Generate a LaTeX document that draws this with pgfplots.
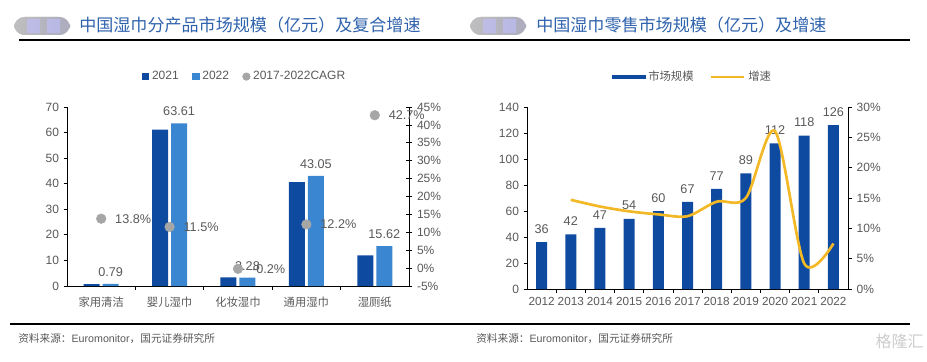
\documentclass[border=0pt]{standalone}
\usepackage{pgfplots}
\pgfplotsset{compat=1.18}
\usepackage{fontspec}
\setmainfont{Liberation Sans}
\newfontfamily\cjk{Noto Sans CJK SC}
\definecolor{dblue}{HTML}{0E4AA0}
\definecolor{lblue}{HTML}{3A86D0}
\definecolor{cgray}{HTML}{A6A6A6}
\definecolor{cyel}{HTML}{F2B825}
\definecolor{tgray}{HTML}{595959}
\definecolor{ttl}{HTML}{2E62AC}
\pgfplotsset{
  base/.style={
    scale only axis,
    axis line style={-, draw=black, line width=0.7pt},
    tick style={draw=black, line width=0.6pt},
    tick label style={text=tgray, font=\fontsize{9}{10}\selectfont},
    /pgf/number format/assume math mode=true,
  }
}
\begin{document}
\begin{tikzpicture}[x=0.75pt,y=0.75pt]
\path[use as bounding box] (0,0) rectangle (927,361);
% ---------- decorations ----------
\fill[left color=white, right color=blue!15, opacity=0.5, rounded corners=8pt] (14,326) rectangle (70,344);
\fill[blue!25, opacity=0.6] (27,328) rectangle (40,342);
\fill[blue!25, opacity=0.6] (47,328) rectangle (60,342);
\fill[left color=white, right color=blue!15, opacity=0.5, rounded corners=8pt] (470,326) rectangle (526,344);
\fill[blue!25, opacity=0.6] (483,328) rectangle (496,342);
\fill[blue!25, opacity=0.6] (503,328) rectangle (516,342);
\node[anchor=west, text=ttl, inner sep=0pt, font=\cjk\fontsize{12.8}{14}\selectfont] at (79,336) {中国湿巾分产品市场规模（亿元）及复合增速};
\node[anchor=west, text=ttl, inner sep=0pt, font=\cjk\fontsize{12.8}{14}\selectfont] at (536,336) {中国湿巾零售市场规模（亿元）及增速};
\draw[line width=1.6pt] (19,321) -- (460,321);
\draw[line width=1.6pt] (460,321) -- (910,321);
\draw[line width=1.6pt] (10,37) -- (910,37);
\node[anchor=west, text=tgray, inner sep=0pt, font=\fontsize{8}{9}\selectfont] at (18,22) {{\cjk 资料来源：}Euromonitor{\cjk ，国元证券研究所}};
\node[anchor=west, text=tgray, inner sep=0pt, font=\fontsize{8}{9}\selectfont] at (476,22) {{\cjk 资料来源：}Euromonitor{\cjk ，国元证券研究所}};
\node[anchor=east, text=black!20, inner sep=0pt, font=\cjk\fontsize{12}{13}\selectfont] at (924,20) {格隆汇};
% ---------- left chart: bars ----------
\begin{axis}[base,
  at={(50.25pt,56.25pt)}, anchor=south west,
  width=256.5pt, height=134.25pt,
  xmin=-0.5, xmax=4.5, ymin=0, ymax=70,
  axis x line*=bottom, axis y line*=left,
  ytick={0,10,...,70},
  xtick={0,...,4},
  xticklabels={家用清洁,婴儿湿巾,化妆湿巾,通用湿巾,湿厕纸},
  x tick label style={font=\cjk\fontsize{8.5}{9}\selectfont, text=tgray, yshift=-2pt},
  major x tick style={draw=none},
  minor xtick={0.5,1.5,2.5,3.5},
  minor tick length=3pt,
  ytick align=outside, major tick length=2.5pt,
  xtick align=inside,
  ybar=2.25pt, bar width=12pt,
  legend style={at={(0.52,1.17)}, anchor=center, draw=none, fill=none,
    legend columns=3, font=\fontsize{9}{10}\selectfont, text=tgray,
    /tikz/every even column/.append style={column sep=8pt},
    legend cell align=left, inner sep=0pt},
  legend image code/.code={\fill[#1] (0cm,-0.1cm) rectangle (0.2cm,0.1cm);},
]
\addplot[fill=dblue, draw=none] coordinates {(0,0.70) (1,61.2) (2,3.4) (3,40.6) (4,12.0)};
\addplot[fill=lblue, draw=none, nodes near coords,
  nodes near coords style={text=tgray, font=\fontsize{9.5}{10}\selectfont, yshift=2pt, /pgf/number format/.cd, fixed, precision=2, fixed zerofill, assume math mode=true}]
  coordinates {(0,0.79) (1,63.61) (2,3.28) (3,43.05) (4,15.62)};
\addlegendentry{2021}
\addlegendentry{2022}
\addlegendimage{legend image code/.code={\fill[cgray] (0.1cm,0cm) circle (0.1cm);}}
\addlegendentry{2017-2022CAGR}
\end{axis}
% ---------- left chart: CAGR ----------
\begin{axis}[base,
  at={(50.25pt,56.25pt)}, anchor=south west,
  width=256.5pt, height=134.25pt,
  xmin=-0.5, xmax=4.5, ymin=-5, ymax=45,
  axis x line=none, axis y line*=right,
  ytick={-5,0,...,45},
  yticklabel={\pgfmathprintnumber{\tick}\%},
  tick align=center, major tick length=5pt,
]
\addplot[only marks, mark=*, mark size=3.6pt, color=cgray,
  nodes near coords={\pgfmathprintnumber[fixed,precision=1,fixed zerofill,assume math mode=true]{\pgfplotspointmeta}\%},
  nodes near coords style={anchor=west, xshift=7pt, text=tgray, font=\fontsize{9.5}{10}\selectfont}]
  coordinates {(0,13.8) (1,11.5) (2,-0.2) (3,12.2) (4,42.7)};
\end{axis}
% ---------- right chart: bars ----------
\begin{axis}[base,
  at={(395.25pt,54pt)}, anchor=south west,
  width=240.75pt, height=136.5pt,
  xmin=-0.5, xmax=10.5, ymin=0, ymax=140,
  axis x line*=bottom, axis y line*=left,
  ytick={0,20,...,140},
  xtick={0,...,10},
  xticklabels={2012,2013,2014,2015,2016,2017,2018,2019,2020,2021,2022},
  x tick label style={font=\fontsize{8.8}{9}\selectfont, text=tgray},
  major x tick style={draw=none},
  minor xtick={0.5,1.5,...,9.5},
  minor tick length=3pt,
  ytick align=outside, major tick length=2.5pt,
  xtick align=inside,
  ybar, bar width=8.25pt,
  legend style={at={(0.517,1.165)}, anchor=center, draw=none, fill=none,
    legend columns=2, font=\cjk\fontsize{8.5}{9}\selectfont, text=tgray,
    /tikz/every even column/.append style={column sep=10pt},
    legend cell align=left, inner sep=0pt},
]
\addplot[fill=dblue, draw=none, nodes near coords,
  nodes near coords style={text=tgray, font=\fontsize{9.5}{10}\selectfont, yshift=3pt},
  legend image code/.code={\fill[dblue] (0cm,-0.06cm) rectangle (0.88cm,0.06cm);}]
  coordinates {(0,36) (1,42) (2,47) (3,54) (4,60) (5,67) (6,77) (7,89) (8,112) (9,118) (10,126)};
\addlegendentry{市场规模}
\addlegendimage{legend image code/.code={\draw[cyel, line width=2pt] (0cm,0cm) -- (0.88cm,0cm);}}
\addlegendentry{增速}
\end{axis}
% ---------- right chart: growth ----------
\begin{axis}[base,
  at={(395.25pt,54pt)}, anchor=south west,
  width=240.75pt, height=136.5pt,
  xmin=-0.5, xmax=10.5, ymin=0, ymax=30,
  axis x line=none, axis y line*=right,
  ytick={0,5,...,30},
  yticklabel={\pgfmathprintnumber{\tick}\%},
  tick align=outside, major tick length=3pt,
]
\addplot[cyel, line width=2pt, smooth, mark=none]
  coordinates {(1,14.7) (2,13.6) (3,12.8) (4,12.3) (5,12.0) (6,14.4) (7,15.0) (8,26.0) (9,4.2) (10,7.5)};
\end{axis}
\end{tikzpicture}
\end{document}
